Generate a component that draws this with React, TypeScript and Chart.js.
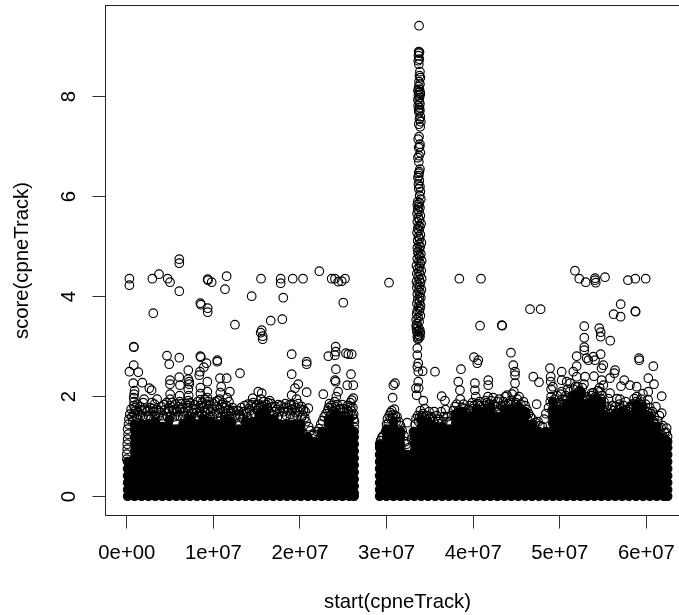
import React, { useEffect, useRef } from "react";
import { Chart, registerables } from "chart.js";

Chart.register(...registerables);

const xTickValues = [0, 1e7, 2e7, 3e7, 4e7, 5e7, 6e7];
const xTickLabels = ["0e+00", "1e+07", "2e+07", "3e+07", "4e+07", "5e+07", "6e+07"];
const yTickValues = [0, 2, 4, 6, 8];
const yTickLabels = ["0", "2", "4", "6", "8"];

// positions are in millions of bases, scores as read
const outlierPoints: number[][] = [
[6.06,4.75],[6.06,4.67],[.3,4.36],[.3,4.23],[2.95,4.36],[3.72,4.45],[4.72,4.36],[4.99,4.29],[6.06,4.11],[3.06,3.67],
[9.34,4.35],[9.38,4.33],[9.8,4.29],[11.53,4.41],[11.34,4.15],[8.49,3.87],[8.57,3.84],[9.34,3.77],[9.34,3.69],[12.49,3.44],
[.8,3.0],[.82,2.99],[4.64,2.82],[6.06,2.78],[8.49,2.81],[8.55,2.79],[10.45,2.73],[.8,2.63],[.3,2.5],[1.33,2.49],[4.9,2.65],
[7.1,2.53],[9.2,2.67],[8.45,2.5],[8.9,2.59],[10.45,2.7],[.75,2.27],[1.79,2.28],[2.6,2.17],[2.87,2.13],[4.99,2.33],[4.99,2.25],
[6.06,2.39],[6.14,2.23],[7.1,2.35],[7.2,2.3],[10.76,2.37],[11.53,2.37],[8.37,2.43],[9.3,2.3],[13.07,2.47],
[15.5,4.36],[17.77,4.36],[17.77,4.27],[19.16,4.36],[20.35,4.36],[22.23,4.51],[23.66,4.36],[24.04,4.36],[24.42,4.3],[24.82,4.31],[25.2,4.36],
[14.42,4.01],[18.07,3.98],[25.0,3.88],[16.62,3.52],[17.96,3.55],[15.58,3.33],[15.46,3.28],[15.69,3.21],[15.69,3.15],[19.04,2.85],
[24.12,3.0],[24.12,2.9],[23.27,2.81],[24.04,2.83],[25.31,2.87],[25.58,2.85],[25.97,2.85],[20.77,2.7],[20.77,2.65],[19.04,2.45],
[24.15,2.55],[24.04,2.33],[24.12,2.3],[25.89,2.45],[26.15,2.23],[25.46,2.23],[19.8,2.25],[19.42,2.17],[19.04,2.03],[20.77,2.09],[22.69,2.05],
[15.18,2.1],[15.58,2.07],[14.54,1.97],[26.15,1.97],[25.97,1.93],[20.96,1.77],
[30.28,4.28],[30.97,2.27],[30.78,2.23],[30.7,1.98],[32.39,1.48],[33.66,2.67],[33.55,2.6],[33.66,2.5],[34.17,2.51],[35.59,2.5],
[33.66,2.3],[33.39,2.17],[33.7,2.17],[33.47,2.03],[34.24,1.92],[38.59,2.55],[40.47,2.67],[38.28,2.3],[38.47,2.13],[40.2,2.27],[40.2,2.13],
[41.74,2.33],[41.74,2.23],[36.36,2.01],[36.74,1.92],[44.63,2.63],[44.83,2.5],[44.83,2.43],[44.83,2.27],
[38.4,4.36],[40.9,4.36],[51.75,4.52],[52.25,4.36],[52.99,4.29],[54.07,4.37],[54.07,4.33],[54.15,4.28],[55.22,4.39],[57.87,4.33],[58.72,4.36],[59.92,4.36],
[46.56,3.75],[47.79,3.75],[40.79,3.42],[43.3,3.43],[43.35,3.42],[52.83,3.41],[52.83,3.18],[52.83,2.99],[52.83,2.93],[54.56,3.37],[54.72,3.29],[54.72,3.2],[55.83,3.12],
[57.03,3.85],[56.22,3.65],[57.03,3.6],[58.72,3.71],[58.76,3.7],[44.36,2.88],[40.09,2.79],[40.59,2.73],[51.95,2.81],[54.72,2.85],[53.87,2.8],[53.1,2.77],[59.15,2.77],
[46.94,2.4],[47.6,2.29],[48.87,2.57],[48.95,2.4],[48.95,2.3],[50.22,2.5],[50.22,2.33],[50.22,2.1],[51.56,2.5],[51.95,2.61],[53.3,2.73],[54.07,2.73],
[55.03,2.63],[54.83,2.57],[56.38,2.53],[56.3,2.47],[53.95,2.41],[54.83,2.33],[55.03,2.23],[55.8,2.37],[57.45,2.33],[57.07,2.21],[58.1,2.23],[58.88,2.2],
[59.18,2.73],[60.8,2.61],[60.22,2.37],[60.88,2.25],[60.22,2.1],[61.77,2.01],[47.33,1.85],[50.8,2.3],[51.2,2.27],[51.95,2.4],[52.92,2.4],[53.68,2.07],[54.65,2.1],[55.8,2.07],
[56.95,1.95],[58.1,1.8],[61.77,1.67],[62.34,1.37],
];

const spikePoints: number[][] = [
[33.75,9.42],[33.7,8.9],[33.8,8.89],[33.72,8.87],[33.68,8.82],[33.78,8.75],[33.66,8.72],[33.72,8.65],[33.85,8.5],[33.8,8.42],[33.9,8.38],[33.75,8.3],[33.85,8.25],[33.7,8.2],
[33.78,8.15],[33.62,8.12],[33.86,8.1],[33.72,8.08],[33.9,8.05],[33.68,8.02],[33.8,7.98],[33.62,7.94],[33.75,7.9],[33.85,7.86],[33.65,7.82],[33.8,7.78],[33.7,7.74],[33.85,7.72],[33.75,7.68],
[33.9,7.6],[33.8,7.55],[33.95,7.5],[33.72,7.45],[33.88,7.4],[33.75,7.2],[33.65,7.15],[33.85,7.05],[33.82,7.0],[33.7,6.98],[33.9,6.88],[33.75,6.82],[33.62,6.78],[33.72,6.7],
[33.85,6.55],[33.78,6.5],[33.7,6.47],[33.72,6.42],[33.62,6.38],[33.78,6.32],[33.68,6.25],[33.85,6.2],[33.72,6.16],[33.9,6.1],[33.82,6.02],[33.95,5.95],[33.6,5.9],[33.78,5.88],
[33.55,5.84],[33.7,5.8],[33.85,5.78],[33.6,5.74],[33.75,5.7],[33.52,5.66],[33.9,5.62],[33.65,5.58],[33.8,5.54],[33.55,5.5],[33.98,5.46],[33.7,5.42],[33.85,5.4],[33.6,5.36],
[33.75,5.32],[33.52,5.28],[33.9,5.24],[33.68,5.2],[33.82,5.16],[33.6,5.12],[34.02,5.08],[33.72,5.05],[33.88,5.0],[33.55,4.98],[33.78,4.94],[33.6,4.9],[33.95,4.86],[33.7,4.84],
[33.85,4.8],[33.55,4.76],[34.05,4.72],[33.72,4.7],[33.9,4.66],[33.45,4.62],[33.8,4.6],[33.6,4.56],[34.0,4.52],[33.75,4.5],[33.5,4.46],[33.88,4.44],[33.65,4.4],[34.05,4.36],
[33.78,4.34],[33.45,4.3],[33.92,4.28],[33.6,4.25],[33.82,4.2],[33.5,4.18],[34.02,4.14],[33.72,4.12],[33.88,4.08],[33.55,4.05],[33.78,4.0],[33.95,3.98],[33.6,3.94],[33.8,3.9],
[33.5,3.86],[33.92,3.82],[33.7,3.8],[33.85,3.76],[33.55,3.72],[33.78,3.7],[33.48,3.66],[33.9,3.62],[33.65,3.58],[33.42,3.54],[33.75,3.5],[33.5,3.46],[33.42,3.42],[33.62,3.4],
[33.45,3.36],[33.68,3.32],[33.5,3.3],[33.82,3.34],[33.9,3.28],[33.62,3.25],[33.75,3.22],[33.55,3.2],[33.7,3.17],[33.85,3.2],[33.6,3.15],[33.55,2.97],[33.55,2.83],
];

const fringePoints: number[][] = [
[.0,.75],[.0,.85],[.05,.95],[.05,1.05],[.1,1.15],[.15,1.25],[.1,1.35],[.2,1.45],[.25,1.55],[.35,1.65],[.5,1.75],[.8,1.82],[.85,1.9],[.8,1.98],[.85,2.05],[.9,2.12],
[1.3,1.7],[1.5,1.8],[1.9,1.88],[2.1,1.75],[2.5,1.62],[2.7,1.78],[3.1,1.7],[3.2,1.85],[3.5,1.95],[3.8,1.68],[4.2,1.62],[4.4,1.74],[4.9,1.7],[5.0,1.82],[5.0,1.95],[5.0,2.05],
[5.5,1.6],[5.8,1.7],[6.1,1.75],[6.1,1.9],[6.1,2.02],[6.6,1.62],[7.1,1.72],[7.1,1.82],[7.1,1.92],[7.15,2.02],[7.1,2.15],[7.2,2.25],[7.6,1.68],[8.0,1.75],[8.4,1.7],[8.5,1.82],
[8.5,1.94],[8.5,2.06],[8.5,2.18],[9.0,1.72],[9.2,1.85],[9.3,1.98],[9.3,2.1],[9.7,1.7],[10.1,1.66],[10.4,1.8],[10.7,1.95],[10.8,2.08],[10.9,2.2],[11.2,1.7],[11.5,1.82],[11.6,1.98],
[11.9,2.1],[12.0,1.7],[12.5,1.62],[13.0,1.65],[13.4,1.56],[13.8,1.68],[14.2,1.72],[14.8,1.78],[15.3,1.85],[15.8,1.9],[16.3,1.88],[16.8,1.8],[17.3,1.74],[17.8,1.82],[18.1,1.7],[18.6,1.78],
[18.9,1.65],[19.3,1.84],[19.6,1.95],[20.0,1.75],[20.3,1.62],[20.7,1.5],[21.2,1.32],[21.6,1.25],[22.0,1.3],[22.4,1.45],[22.8,1.6],[23.2,1.72],[23.6,1.82],[24.0,1.9],[24.2,2.0],[24.4,2.1],
[24.7,1.75],[25.1,1.7],[25.5,1.82],[25.9,1.72],[26.2,1.55],[26.25,1.4],[26.2,1.65],
[29.6,1.22],[30,1.45],[30.3,1.62],[30.6,1.72],[30.9,1.75],[31.2,1.6],[31.6,1.42],[32,1.22],[32.3,1.05],[32.6,.98],[32.9,1.15],[33.3,1.45],[33.6,1.62],[33.9,1.72],[34.4,1.76],[34.9,1.7],
[35.3,1.58],[35.8,1.62],[36.3,1.7],[36.8,1.74],[37.3,1.5],[37.7,1.72],[38.1,1.85],[38.5,1.95],[38.9,1.85],[39.4,1.75],[39.9,1.88],[40.3,2.0],[40.7,1.9],[41.2,1.82],[41.7,2.0],[42.1,1.92],
[42.6,1.8],[43,1.95],[43.5,1.9],[43.9,2.03],[44.3,1.92],[44.7,2.1],[45.1,1.95],[45.5,1.85],[46,1.82],[46.4,1.66],[46.8,1.56],[47.2,1.48],[47.7,1.42],[48.2,1.55],[48.7,1.78],[49,2.0],
[49,2.15],[49.4,1.95],[49.9,1.88],[50.3,1.95],[50.7,2.02],[51.1,2.1],[51.6,2.15],[52.1,2.2],[52.6,2.18],[53,2.0],[53.5,1.95],[53.9,2.08],[54.4,2.12],[54.9,2.02],[55.4,1.8],[55.9,1.75],
[56.4,1.8],[56.9,1.85],[57.4,1.82],[57.9,1.7],[58.4,1.85],[58.9,2.0],[59.4,1.95],[59.9,1.85],[60.4,1.78],[60.9,1.6],[61.3,1.52],[61.7,1.38],[62.1,1.28],[62.45,1.2],
];

const upperFringePoints: number[][] = [
[.6,1.6],[1.0,1.72],[1.2,1.85],[1.6,1.62],[2.0,1.95],[2.3,1.7],[2.9,1.88],[3.4,1.74],[3.6,1.6],[4.0,1.8],[4.6,1.88],[5.3,1.72],[5.6,1.85],[5.9,1.62],[6.4,1.78],[6.8,1.86],[7.4,1.6],[7.8,1.84],[8.2,1.9],
[8.8,1.78],[9.0,1.95],[9.5,1.84],[9.9,1.6],[10.2,1.9],[10.6,1.68],[11.0,1.84],[11.4,1.66],[11.8,1.9],[12.2,1.78],[12.7,1.72],[13.2,1.78],[13.6,1.82],[14.0,1.85],[14.4,1.64],[14.6,1.88],[15.1,1.72],[15.5,1.95],
[15.9,1.76],[16.1,1.84],[16.5,1.92],[17.0,1.7],[17.5,1.84],[18.3,1.86],[18.8,1.84],[19.1,1.74],[19.5,1.68],[19.8,1.86],[20.2,1.8],[20.6,1.7],[21.0,1.4],[21.4,1.22],[22.2,1.36],[22.6,1.52],[23.0,1.66],[23.4,1.86],
[23.8,1.7],[24.3,1.84],[24.6,1.62],[24.9,1.84],[25.3,1.6],[25.6,1.7],[25.8,1.88],[26.1,1.78],[26.28,1.5],
[29.3,1.12],[29.45,1.18],[29.9,1.3],[30.1,1.56],[30.45,1.68],[30.7,1.58],[31,1.62],[31.4,1.5],[31.8,1.32],[32.2,1.1],[33.1,1.3],[33.4,1.56],[33.8,1.58],[34.2,1.66],[34.6,1.62],[35.1,1.6],[35.5,1.7],[36,1.55],
[36.6,1.6],[37,1.6],[37.5,1.62],[37.9,1.8],[38.3,1.72],[38.7,1.78],[39.1,1.68],[39.6,1.82],[40.1,1.82],[40.5,1.86],[40.9,1.74],[41.4,1.92],[41.9,1.85],[42.3,1.98],[42.8,1.9],[43.2,1.82],[43.7,2.0],[44.1,1.86],
[44.5,2.05],[44.9,1.88],[45.3,2.0],[45.8,1.9],[46.2,1.74],[46.6,1.6],[47,1.44],[47.5,1.5],[48,1.4],[48.4,1.66],[48.9,1.9],[49.2,2.2],[49.7,2.02],[50.1,2.05],[50.5,1.94],[50.9,2.15],[51.4,2.0],[51.8,2.2],[52.3,2.12],
[52.8,2.25],[53.2,1.95],[53.7,2.02],[54.2,1.98],[54.6,2.18],[55.1,1.9],[55.6,1.96],[56.1,1.82],[56.6,1.96],[57.1,1.76],[57.6,1.9],[58.2,1.78],[58.6,1.96],[59.1,1.88],[59.6,2.06],[60.2,1.94],[60.7,1.7],[61.1,1.8],[61.5,1.62],[61.9,1.42],[62.3,1.28],
];

const denseEdgePoints: number[][] = [
[.7,1.52],[.8,1.66],[.95,1.78],[1.1,1.58],[1.4,1.64],[1.7,1.74],[1.85,1.6],[2.2,1.6],[2.45,1.72],[2.8,1.56],[3.0,1.76],[3.3,1.62],[3.7,1.72],[4.1,1.56],[4.3,1.84],[4.7,1.6],[4.85,1.76],[5.1,1.62],[5.2,1.88],[5.45,1.74],
[5.95,1.8],[6.2,1.6],[6.3,1.86],[6.55,1.7],[6.95,1.62],[7.0,1.78],[7.25,1.6],[7.3,1.88],[7.7,1.76],[7.9,1.6],[8.1,1.68],[8.35,1.6],[8.35,1.78],[8.65,1.64],[8.7,1.88],[8.95,1.6],[9.15,1.68],[9.4,1.76],[9.4,1.9],[9.65,1.58],
[9.85,1.76],[10.0,1.86],[10.35,1.66],[10.5,1.92],[10.8,1.74],[10.85,1.6],[11.1,1.88],[11.3,1.6],[11.35,1.78],[11.7,1.72],[11.85,1.6],[12.1,1.66],[12.35,1.72],[12.6,1.58],[12.9,1.72],[13.1,1.6],[13.5,1.7],[13.95,1.6],[14.1,1.76],[14.35,1.84],
[14.7,1.66],[14.95,1.84],[15.2,1.76],[15.4,1.8],[15.65,1.82],[16.0,1.7],[16.25,1.78],[16.45,1.7],[16.7,1.86],[16.95,1.62],[17.15,1.8],[17.4,1.6],[17.65,1.7],[17.95,1.6],[18.2,1.78],[18.45,1.62],[18.7,1.72],[19.0,1.84],[19.2,1.6],[19.45,1.78],
[19.7,1.62],[19.9,1.7],[20.15,1.58],[20.4,1.74],[20.55,1.58],[23.3,1.78],[23.5,1.62],[23.75,1.78],[23.95,1.7],[24.1,1.8],[24.5,1.76],[24.75,1.62],[25.0,1.76],[25.2,1.62],[25.4,1.74],[25.65,1.6],[25.85,1.8],[26.05,1.62],
[30.2,1.46],[30.5,1.56],[30.75,1.64],[31.1,1.5],[33.7,1.5],[34.05,1.62],[34.5,1.55],[35,1.56],[35.4,1.5],[35.9,1.5],[36.5,1.5],[37.1,1.5],[37.8,1.62],[38.2,1.66],[38.6,1.62],[39,1.76],[39.3,1.66],[39.75,1.72],[40,1.76],[40.4,1.7],
[40.8,1.82],[41,1.62],[41.3,1.76],[41.6,1.88],[42,1.76],[42.4,1.84],[42.7,1.7],[43.1,1.74],[43.4,1.8],[43.8,1.82],[44,1.72],[44.4,1.84],[44.6,1.74],[45,1.84],[45.4,1.78],[45.7,1.7],[46.1,1.62],[46.3,1.54],[49.1,1.72],[49.5,1.82],
[49.8,1.74],[50.2,1.84],[50.6,1.86],[50.8,1.94],[51.2,1.92],[51.5,2.02],[51.95,1.98],[52.2,2.1],[52.5,2.05],[52.75,1.92],[53.1,1.86],[53.4,1.84],[53.8,1.92],[54.1,2.0],[54.3,1.84],[54.75,1.96],[55,1.74],[55.3,1.68],[55.7,1.66],[56.2,1.72],
[56.5,1.68],[56.8,1.74],[57.05,1.62],[57.3,1.72],[57.7,1.66],[58,1.74],[58.3,1.68],[58.5,1.78],[58.8,1.9],[59.2,1.76],[59.5,1.84],[59.8,1.72],[60.1,1.7],[60.5,1.66],[60.8,1.5],[61,1.46],[61.4,1.38],
];

// saturated overplot: one list of scores for each position
const corePositions = [
.1,.9,1.7,2.5,3.3,4.1,4.9,5.7,6.5,7.3,8.1,8.9,9.7,10.5,11.3,12.1,12.9,13.7,14.5,15.3,16.1,16.9,17.7,18.5,19.3,20.1,20.9,21.7,22.5,23.3,24.1,24.9,25.7,26.25,
29.2,30,30.8,31.6,32.4,33.2,34,34.8,35.6,36.4,37.2,38,38.8,39.6,40.4,41.2,42,42.8,43.6,44.4,45.2,46,46.8,47.6,48.4,49.2,50,50.8,51.6,52.4,53.2,54,54.8,55.6,56.4,57.2,58,58.8,59.6,60.4,61.2,62,62.45,
];
const coreScores: number[][] = [
[.01,.14,.28,.42,.56,.70],
[.01,.07,.21,.35,.49,.63,.77,.91,1.05,1.19,1.33,1.45],
[.01,.14,.28,.42,.56,.70,.84,.98,1.12,1.26,1.40,1.45],
[.01,.07,.21,.35,.49,.63,.77,.91,1.05,1.19,1.33,1.45],
[.01,.14,.28,.42,.56,.70,.84,.98,1.12,1.26,1.40,1.50],
[.01,.07,.21,.35,.49,.63,.77,.91,1.05,1.19,1.33,1.40],
[.01,.14,.28,.42,.56,.70,.84,.98,1.12,1.26,1.40,1.54],
[.01,.07,.21,.35,.49,.63,.77,.91,1.05,1.19,1.33,1.35],
[.01,.14,.28,.42,.56,.70,.84,.98,1.12,1.26,1.40,1.45],
[.01,.07,.21,.35,.49,.63,.77,.91,1.05,1.19,1.33,1.47,1.55],
[.01,.14,.28,.42,.56,.70,.84,.98,1.12,1.26,1.40,1.45],
[.01,.07,.21,.35,.49,.63,.77,.91,1.05,1.19,1.33,1.47,1.55],
[.01,.14,.28,.42,.56,.70,.84,.98,1.12,1.26,1.40,1.50],
[.01,.07,.21,.35,.49,.63,.77,.91,1.05,1.19,1.33,1.45],
[.01,.14,.28,.42,.56,.70,.84,.98,1.12,1.26,1.40,1.54],
[.01,.07,.21,.35,.49,.63,.77,.91,1.05,1.19,1.33,1.47,1.50],
[.01,.14,.28,.42,.56,.70,.84,.98,1.12,1.26,1.35],
[.01,.07,.21,.35,.49,.63,.77,.91,1.05,1.19,1.33,1.47,1.50],
[.01,.14,.28,.42,.56,.70,.84,.98,1.12,1.26,1.40,1.50],
[.01,.07,.21,.35,.49,.63,.77,.91,1.05,1.19,1.33,1.47,1.61,1.65],
[.01,.14,.28,.42,.56,.70,.84,.98,1.12,1.26,1.40,1.54,1.68],
[.01,.07,.21,.35,.49,.63,.77,.91,1.05,1.19,1.33,1.47,1.55],
[.01,.14,.28,.42,.56,.70,.84,.98,1.12,1.26,1.40,1.45],
[.01,.07,.21,.35,.49,.63,.77,.91,1.05,1.19,1.33,1.45],
[.01,.14,.28,.42,.56,.70,.84,.98,1.12,1.26,1.40,1.45],
[.01,.07,.21,.35,.49,.63,.77,.91,1.05,1.19,1.33,1.45],
[.01,.14,.28,.42,.56,.70,.84,.98,1.12,1.20],
[.01,.07,.21,.35,.49,.63,.77,.91,1.05,1.10],
[.01,.14,.28,.42,.56,.70,.84,.98,1.12,1.26,1.30],
[.01,.07,.21,.35,.49,.63,.77,.91,1.05,1.19,1.33,1.47,1.55],
[.01,.14,.28,.42,.56,.70,.84,.98,1.12,1.26,1.40,1.54,1.65],
[.01,.07,.21,.35,.49,.63,.77,.91,1.05,1.19,1.33,1.47,1.55],
[.01,.14,.28,.42,.56,.70,.84,.98,1.12,1.26,1.40,1.55],
[.01,.07,.21,.35,.49,.63,.77,.91,1.05,1.19,1.30],
[.01,.14,.28,.42,.56,.70,.84,.98,1.05],
[.01,.07,.21,.35,.49,.63,.77,.91,1.05,1.19,1.33,1.35],
[.01,.14,.28,.42,.56,.70,.84,.98,1.12,1.26,1.40,1.50],
[.01,.07,.21,.35,.49,.63,.77,.91,1.05,1.19,1.30],
[.01,.14,.28,.42,.56,.70,.84],
[.01,.07,.21,.35,.49,.63,.77,.91,1.05,1.19,1.30],
[.01,.14,.28,.42,.56,.70,.84,.98,1.12,1.26,1.40,1.55],
[.01,.07,.21,.35,.49,.63,.77,.91,1.05,1.19,1.33,1.47,1.50],
[.01,.14,.28,.42,.56,.70,.84,.98,1.12,1.26,1.40],
[.01,.07,.21,.35,.49,.63,.77,.91,1.05,1.19,1.33,1.40],
[.01,.14,.28,.42,.56,.70,.84,.98,1.12,1.26,1.35],
[.01,.07,.21,.35,.49,.63,.77,.91,1.05,1.19,1.33,1.47,1.61,1.65],
[.01,.14,.28,.42,.56,.70,.84,.98,1.12,1.26,1.40,1.54,1.68,1.70],
[.01,.07,.21,.35,.49,.63,.77,.91,1.05,1.19,1.33,1.47,1.60],
[.01,.14,.28,.42,.56,.70,.84,.98,1.12,1.26,1.40,1.54,1.68,1.75],
[.01,.07,.21,.35,.49,.63,.77,.91,1.05,1.19,1.33,1.47,1.61,1.70],
[.01,.14,.28,.42,.56,.70,.84,.98,1.12,1.26,1.40,1.54,1.68,1.80],
[.01,.07,.21,.35,.49,.63,.77,.91,1.05,1.19,1.33,1.47,1.60],
[.01,.14,.28,.42,.56,.70,.84,.98,1.12,1.26,1.40,1.54,1.68,1.75],
[.01,.07,.21,.35,.49,.63,.77,.91,1.05,1.19,1.33,1.47,1.61,1.75],
[.01,.14,.28,.42,.56,.70,.84,.98,1.12,1.26,1.40,1.54,1.68,1.80],
[.01,.07,.21,.35,.49,.63,.77,.91,1.05,1.19,1.33,1.47,1.61,1.70],
[.01,.14,.28,.42,.56,.70,.84,.98,1.12,1.26,1.40,1.45],
[.01,.07,.21,.35,.49,.63,.77,.91,1.05,1.19,1.30],
[.01,.14,.28,.42,.56,.70,.84,.98,1.12,1.26,1.30],
[.01,.07,.21,.35,.49,.63,.77,.91,1.05,1.19,1.33,1.47,1.61,1.75,1.90],
[.01,.14,.28,.42,.56,.70,.84,.98,1.12,1.26,1.40,1.54,1.68,1.75],
[.01,.07,.21,.35,.49,.63,.77,.91,1.05,1.19,1.33,1.47,1.61,1.75,1.85],
[.01,.14,.28,.42,.56,.70,.84,.98,1.12,1.26,1.40,1.54,1.68,1.82,1.96,2.0],
[.01,.07,.21,.35,.49,.63,.77,.91,1.05,1.19,1.33,1.47,1.61,1.75,1.89,2.03,2.10],
[.01,.14,.28,.42,.56,.70,.84,.98,1.12,1.26,1.40,1.54,1.68,1.85],
[.01,.07,.21,.35,.49,.63,.77,.91,1.05,1.19,1.33,1.47,1.61,1.75,1.89,1.95],
[.01,.14,.28,.42,.56,.70,.84,.98,1.12,1.26,1.40,1.54,1.68,1.82,1.90],
[.01,.07,.21,.35,.49,.63,.77,.91,1.05,1.19,1.33,1.47,1.60],
[.01,.14,.28,.42,.56,.70,.84,.98,1.12,1.26,1.40,1.54,1.65],
[.01,.07,.21,.35,.49,.63,.77,.91,1.05,1.19,1.33,1.47,1.61,1.70],
[.01,.14,.28,.42,.56,.70,.84,.98,1.12,1.26,1.40,1.54,1.60],
[.01,.07,.21,.35,.49,.63,.77,.91,1.05,1.19,1.33,1.47,1.61,1.75,1.85],
[.01,.14,.28,.42,.56,.70,.84,.98,1.12,1.26,1.40,1.54,1.68,1.80],
[.01,.07,.21,.35,.49,.63,.77,.91,1.05,1.19,1.33,1.47,1.60],
[.01,.14,.28,.42,.56,.70,.84,.98,1.12,1.26,1.40],
[.01,.07,.21,.35,.49,.63,.77,.91,1.05,1.19],
[.01,.14,.28,.42,.56,.70,.84,.98,1.10],
];

const MB = 1e6;
const toXY = (p: number[]) => ({ x: p[0] * MB, y: p[1] });
const corePoints = corePositions.flatMap((pos, i) => coreScores[i].map((s) => ({ x: pos * MB, y: s })));

const FONT = '"Liberation Sans", Arial, sans-serif';
const INK = "#000";

const boxPlugin = {
  id: "box",
  afterDraw(chart: any) {
    const { left, top, right, bottom } = chart.chartArea;
    const c = chart.ctx;
    c.save();
    c.strokeStyle = "#222";
    c.lineWidth = 1;
    c.strokeRect(left, top, right - left, bottom - top);
    c.restore();
  },
};

const noScalePadding = (s: any) => {
  s.paddingTop = 0;
  s.paddingBottom = 0;
  s.paddingLeft = 0;
  s.paddingRight = 0;
};

export default function App() {
  const ref = useRef<HTMLCanvasElement>(null);
  useEffect(() => {
    const open = { pointStyle: "circle", pointRadius: 4.3, borderColor: INK, borderWidth: 1.15, backgroundColor: "transparent", showLine: false };
    const chart = new Chart(ref.current as HTMLCanvasElement, {
      type: "scatter",
      data: {
        datasets: [
          { label: "outliers", data: outlierPoints.map(toXY), ...open },
          { label: "spike", data: spikePoints.map(toXY), ...open },
          { label: "fringe", data: fringePoints.map(toXY), ...open },
          { label: "upper fringe", data: upperFringePoints.map(toXY), ...open },
          { label: "dense edge", data: denseEdgePoints.map(toXY), ...open },
          { label: "core", data: corePoints, ...open, backgroundColor: INK },
        ],
      } as any,
      plugins: [boxPlugin],
      options: {
        responsive: false,
        animation: false,
        events: [],
        clip: false,
        layout: { autoPadding: false, padding: { top: 5.5, right: 10.5, left: 0, bottom: 0 } },
        plugins: { legend: { display: false }, tooltip: { enabled: false } },
        scales: {
          x: {
            type: "linear",
            min: -2460000,
            max: 64980000,
            afterFit: (s: any) => { s.height = 99.5; noScalePadding(s); },
            afterBuildTicks: (s: any) => { s.ticks = xTickValues.map((value) => ({ value })); },
            grid: { drawOnChartArea: false, drawTicks: true, tickLength: 13, color: "#333", lineWidth: 1 },
            border: { display: false },
            ticks: {
              autoSkip: false, maxRotation: 0, minRotation: 0, padding: 13, color: INK,
              font: { family: FONT, size: 20.3 },
              callback: (_v: any, i: number) => xTickLabels[i],
            },
            title: { display: true, text: "start(cpneTrack)", color: INK, font: { family: FONT, size: 20.3 }, padding: { top: 0, bottom: 0 } },
          },
          y: {
            type: "linear",
            min: -0.376,
            max: 9.824,
            afterFit: (s: any) => { s.width = 105.5; noScalePadding(s); },
            afterBuildTicks: (s: any) => { s.ticks = yTickValues.map((value) => ({ value })); },
            grid: { drawOnChartArea: false, drawTicks: true, tickLength: 13, color: "#333", lineWidth: 1 },
            border: { display: false },
            ticks: {
              autoSkip: false, minRotation: 90, maxRotation: 90, crossAlign: "center", padding: 17, color: INK,
              font: { family: FONT, size: 20.3 },
              callback: (_v: any, i: number) => yTickLabels[i],
            },
            title: { display: true, text: "score(cpneTrack)", color: INK, font: { family: FONT, size: 20.3 }, padding: { top: 10, bottom: 0 } },
          },
        },
      } as any,
    });
    return () => chart.destroy();
  }, []);
  return (
    <div style={{ position: "absolute", left: 0, top: 0, width: 679, height: 615, overflow: "hidden", background: "#fff" }}>
      <canvas ref={ref} width={700} height={615} style={{ display: "block" }} />
    </div>
  );
}
